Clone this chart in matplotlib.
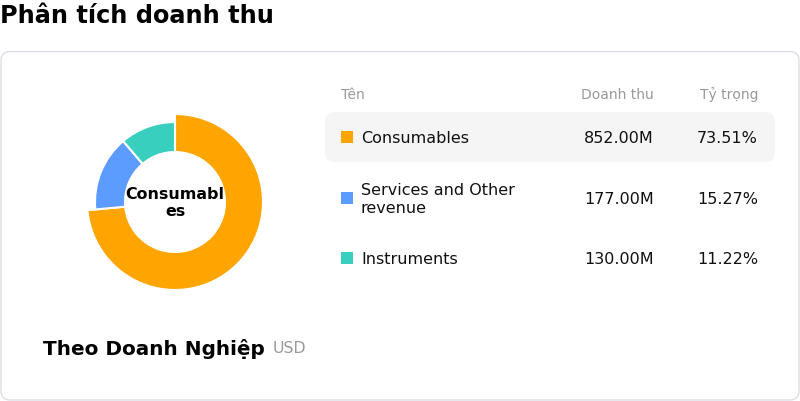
import matplotlib
matplotlib.use("Agg")
import matplotlib.pyplot as plt
from matplotlib.patches import FancyBboxPatch, Rectangle

plt.rcParams['font.family'] = ['DejaVu Sans']

# ---- data ----
categories = ["Consumables", "Services and Other revenue", "Instruments"]
display_names = ["Consumables", "Services and Other\nrevenue", "Instruments"]
revenue_m = [852.00, 177.00, 130.00]
share_pct = [73.51, 15.27, 11.22]
colors = ["#FFA502", "#5C9BFF", "#38CFBF"]
title = "Phân tích doanh thu"
subtitle = "Theo Doanh Nghiệp"
unit = "USD"
headers = ["Tên", "Doanh thu", "Tỷ trọng"]
center_label = "Consumabl\nes"

W, H = 800, 402
fig = plt.figure(figsize=(W / 100, H / 100), dpi=100)
fig.patch.set_facecolor("white")

# overlay axes in pixel coordinates (y down)
ov = fig.add_axes([0, 0, 1, 1])
ov.set_xlim(0, W)
ov.set_ylim(H, 0)
ov.axis("off")

# card
card = FancyBboxPatch((1.0, 52.5), 798, 348.5, boxstyle="round,pad=0,rounding_size=9",
                      facecolor="white", edgecolor="#DDDDE8", linewidth=1.0)
ov.add_patch(card)

# title
ov.text(0, 16, title, fontsize=17.3, fontweight="bold", ha="left", va="center", color="#000000")

# table header
ov.text(341, 95, headers[0], fontsize=10, color="#999999", ha="left", va="center")
ov.text(654, 95, headers[1], fontsize=10, color="#999999", ha="right", va="center")
ov.text(758, 95, headers[2], fontsize=10, color="#999999", ha="right", va="center")

# highlighted row background
hl = FancyBboxPatch((325, 113), 450, 50, boxstyle="round,pad=0,rounding_size=10",
                    facecolor="#F5F5F5", edgecolor="none")
ov.add_patch(hl)

row_y = [138, 199, 259]
for i, name in enumerate(display_names):
    y = row_y[i]
    ov.add_patch(Rectangle((341, y - 6), 12, 12, facecolor=colors[i], edgecolor="none"))
    ov.text(361, y + 0.5, name, fontsize=11.5, color="#111111", ha="left", va="center",
            linespacing=1.3)
    ov.text(654, y + 0.5, f"{revenue_m[i]:.2f}M", fontsize=11.5, color="#111111",
            ha="right", va="center")
    ov.text(758, y + 0.5, f"{share_pct[i]:.2f}%", fontsize=11.5, color="#111111",
            ha="right", va="center")

# bottom subtitle
ov.text(43, 349, subtitle, fontsize=14.4, fontweight="bold", ha="left", va="center", color="#000000")
ov.text(273, 349, unit, fontsize=11.3, color="#999999", ha="left", va="center")

# donut
pa = fig.add_axes([75 / W, (H - 303) / H, 200 / W, 200 / H])
pa.set_xlim(-100, 100)
pa.set_ylim(-100, 100)
pa.set_aspect("equal")
pa.axis("off")
wedges, _ = pa.pie(revenue_m, colors=colors, radius=80, startangle=90, counterclock=False,
                   wedgeprops=dict(width=30, edgecolor="white", linewidth=1.5))
# highlighted (hovered) slice enlarged
wedges[0].set_radius(88)
wedges[0].set_width(38)
pa.set_xlim(-100, 100)
pa.set_ylim(-100, 100)
pa.text(0, 0, center_label, fontsize=11.4, fontweight="bold", ha="center", va="center",
        linespacing=1.1, color="#000000")

fig.savefig("out.png", dpi=100, facecolor="white")
